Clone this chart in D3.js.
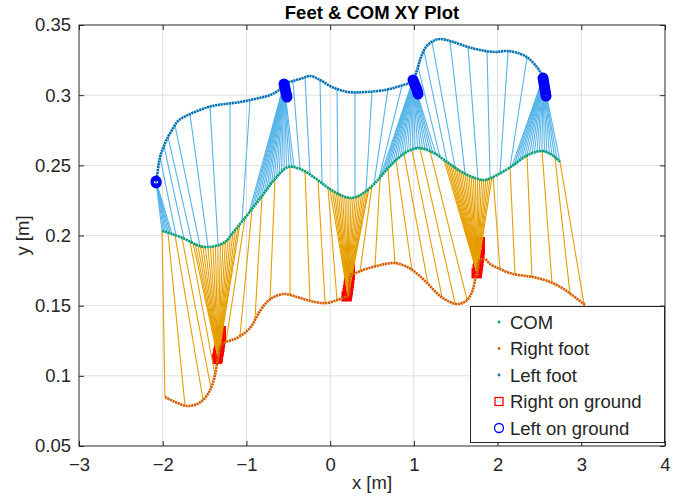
<!DOCTYPE html>
<html>
<head>
<meta charset="utf-8">
<script src="https://cdn.jsdelivr.net/npm/d3@7"></script>
<style>
body { margin: 0; background: #fff; }
text { font-family: "Liberation Sans", Arial, sans-serif; }
</style>
</head>
<body>
<svg id="chart" width="681" height="497"></svg>
<script>
// COM trajectory (x, y in m)
var comX = [-2.008, -1.889, -1.734, -1.590, -1.495, -1.375, -1.256, -1.136, -0.981, -0.814, -0.659, -0.503, -0.360, -0.181, -0.002, 0.154, 0.261, 0.381, 0.536, 0.715, 0.894, 1.050, 1.217, 1.396, 1.575, 1.731, 1.838, 1.993, 2.173, 2.364, 2.531, 2.650, 2.746];
var comY = [0.2032, 0.2011, 0.1975, 0.1932, 0.1918, 0.1925, 0.1954, 0.2039, 0.2153, 0.2281, 0.2403, 0.2488, 0.2474, 0.2410, 0.2331, 0.2281, 0.2267, 0.2296, 0.2374, 0.2495, 0.2588, 0.2623, 0.2595, 0.2524, 0.2452, 0.2410, 0.2395, 0.2431, 0.2495, 0.2574, 0.2602, 0.2574, 0.2524];

// right foot trajectory
var rightX = [-1.973, -1.853, -1.710, -1.590, -1.495, -1.423, -1.375, -1.351, -1.339, -1.304, -1.244, -1.113, -0.957, -0.838, -0.742, -0.647, -0.539, -0.360, -0.181, -0.037, 0.082, 0.178, 0.213, 0.249, 0.309, 0.393, 0.512, 0.655, 0.775, 0.894, 1.014, 1.157, 1.313, 1.432, 1.528, 1.623, 1.695, 1.731, 1.755, 1.790, 1.850, 1.910, 2.029, 2.185, 2.423, 2.627, 2.770, 2.889, 3.045];
var rightY = [0.0849, 0.0814, 0.0785, 0.0799, 0.0842, 0.0913, 0.1006, 0.1091, 0.1127, 0.1220, 0.1241, 0.1270, 0.1341, 0.1462, 0.1533, 0.1569, 0.1583, 0.1555, 0.1526, 0.1519, 0.1540, 0.1562, 0.1569, 0.1719, 0.1733, 0.1754, 0.1776, 0.1797, 0.1804, 0.1783, 0.1740, 0.1662, 0.1569, 0.1526, 0.1512, 0.1533, 0.1597, 0.1683, 0.1733, 0.1825, 0.1832, 0.1797, 0.1761, 0.1726, 0.1704, 0.1669, 0.1626, 0.1576, 0.1505];

// left foot trajectory
var leftX = [-2.080, -2.068, -2.032, -1.985, -1.937, -1.889, -1.817, -1.698, -1.555, -1.411, -1.256, -1.077, -0.898, -0.718, -0.611, -0.551, -0.444, -0.324, -0.241, -0.121, 0.022, 0.213, 0.440, 0.655, 0.835, 0.942, 0.990, 1.038, 1.086, 1.145, 1.229, 1.313, 1.432, 1.611, 1.790, 1.970, 2.113, 2.244, 2.364, 2.459, 2.519, 2.543];
var leftY = [0.2381, 0.2424, 0.2559, 0.2638, 0.2702, 0.2752, 0.2816, 0.2859, 0.2894, 0.2923, 0.2937, 0.2951, 0.2973, 0.3001, 0.3037, 0.3080, 0.3101, 0.3122, 0.3137, 0.3108, 0.3058, 0.3023, 0.3023, 0.3037, 0.3065, 0.3087, 0.3108, 0.3179, 0.3272, 0.3343, 0.3386, 0.3400, 0.3386, 0.3350, 0.3322, 0.3308, 0.3315, 0.3300, 0.3265, 0.3208, 0.3158, 0.3129];

// foot on ground samples
var rightGroundX = [-1.351, -1.345, -1.339, -1.339, -1.333, -1.327, -1.321, -1.315, -1.310, -1.304, -1.304,
    0.195, 0.201, 0.207, 0.213, 0.219, 0.225, 0.231, 0.237, 0.237,
    1.748, 1.754, 1.760, 1.766, 1.772, 1.778, 1.784, 1.790, 1.790];
var rightGroundY = [0.1120, 0.1127, 0.1135, 0.1156, 0.1170, 0.1184, 0.1206, 0.1234, 0.1260, 0.1284, 0.1319,
    0.1565, 0.1569, 0.1590, 0.1612, 0.1640, 0.1662, 0.1690, 0.1719, 0.1776,
    0.1730, 0.1733, 0.1760, 0.1783, 0.1810, 0.1840, 0.1870, 0.1897, 0.1954];
var leftGroundX = [-2.080, -2.078, -0.551, -0.545, -0.539, -0.533, -0.527, -0.521, -0.515,
    0.990, 1.002, 1.014, 1.026, 1.038, 1.044, 1.050,
    2.543, 2.549, 2.555, 2.561, 2.567, 2.573, 2.579];
var leftGroundY = [0.2388, 0.2375, 0.3080, 0.3066, 0.3051, 0.3033, 0.3015, 0.3001, 0.2987,
    0.3108, 0.3090, 0.3072, 0.3055, 0.3037, 0.3022, 0.3008,
    0.3122, 0.3101, 0.3080, 0.3058, 0.3037, 0.3015, 0.2994];

// links foot -> COM while foot is on ground (apex + COM x of each line)
var leftFanFoot = [[-2.080, 0.2388], [-0.551, 0.3080], [0.990, 0.3108], [2.543, 0.3122]];
var leftFanCom = [
    [-2.008, -1.990, -1.970, -1.950, -1.930, -1.910, -1.889],
    [-0.969, -0.940, -0.910, -0.880, -0.850, -0.820, -0.790, -0.760, -0.730, -0.700, -0.670, -0.640, -0.610, -0.580, -0.550, -0.520, -0.490, -0.460, -0.430],
    [0.596, 0.625, 0.655, 0.685, 0.715, 0.745, 0.775, 0.805, 0.835, 0.865, 0.895, 0.925, 0.955, 0.985, 1.015, 1.045, 1.075, 1.105, 1.135, 1.165, 1.195, 1.225, 1.265],
    [2.173, 2.200, 2.230, 2.260, 2.290, 2.320, 2.350, 2.380, 2.410, 2.440, 2.470, 2.500, 2.530, 2.560, 2.590, 2.620, 2.650, 2.680, 2.710, 2.746]
];
var rightFanFoot = [[-1.339, 0.1127], [0.213, 0.1569], [1.754, 0.1733]];
var rightFanCom = [
    [-1.638, -1.610, -1.580, -1.550, -1.520, -1.490, -1.460, -1.430, -1.400, -1.370, -1.340, -1.310, -1.280, -1.250, -1.220, -1.190, -1.160, -1.130, -1.100, -1.077],
    [-0.002, 0.025, 0.050, 0.075, 0.100, 0.125, 0.150, 0.175, 0.200, 0.225, 0.250, 0.275, 0.300, 0.325, 0.350, 0.375, 0.400, 0.425, 0.450, 0.464],
    [1.360, 1.385, 1.410, 1.435, 1.460, 1.485, 1.510, 1.535, 1.560, 1.585, 1.610, 1.635, 1.660, 1.685, 1.710, 1.735, 1.760, 1.785, 1.810, 1.835, 1.860, 1.885, 1.910, 1.934]
];

// links foot -> COM during swing (foot x, COM x)
var leftSwingFoot = [-2.032, -1.985, -1.937, -1.853, -1.674, -1.435, -1.196, -0.957,
    -0.444, -0.300, -0.121, 0.082, 0.297, 0.500, 0.691, 0.859,
    1.050, 1.121, 1.217, 1.432, 1.647, 1.874, 2.125, 2.352];
var leftSwingCom = [-1.841, -1.746, -1.650, -1.555, -1.459, -1.339, -1.196, -1.053,
    -0.360, -0.241, -0.097, 0.094, 0.297, 0.429, 0.524, 0.584,
    1.313, 1.396, 1.492, 1.611, 1.766, 1.910, 2.029, 2.149];
var rightSwingFoot = [-1.973, -1.734, -1.519, -1.423, -1.375,
    -1.244, -1.077, -0.898, -0.718, -0.479, -0.241, -0.061, 0.082,
    0.357, 0.536, 0.775, 0.978, 1.169, 1.337, 1.492, 1.635,
    2.029, 2.208, 2.411, 2.650, 2.865, 3.033];
var rightSwingCom = [-2.008, -1.937, -1.853, -1.770, -1.674,
    -1.017, -0.933, -0.814, -0.659, -0.479, -0.300, -0.145, -0.026,
    0.500, 0.596, 0.691, 0.787, 0.882, 0.978, 1.074, 1.193,
    1.946, 2.149, 2.352, 2.531, 2.686, 2.746];

var xTicks = [-3, -2, -1, 0, 1, 2, 3, 4];
var yTicks = [0.05, 0.1, 0.15, 0.2, 0.25, 0.3, 0.35];

var legendNames = ['COM', 'Right foot', 'Left foot', 'Right on ground', 'Left on ground'];

var width = 681, height = 497;
var margin = { top: 25, right: 16, bottom: 51, left: 79 };
var axisColor = '#262626';
var comColor = '#009E73', rightColor = '#D55E00', leftColor = '#0072B2';
var rightLink = '#E69F00', leftLink = '#56B4E9';
var fontSize = '18.5px';

var svg = d3.select('#chart');

var x = d3.scaleLinear().domain([-3, 4]).range([margin.left, width - margin.right]);
var y = d3.scaleLinear().domain([0.05, 0.35]).range([height - margin.bottom, margin.top]);

// y on a polyline at a given x
function yOn(xs, ys, xv) {
    for (var i = 0; i < xs.length - 1; i++) {
        if (xv >= xs[i] && xv <= xs[i + 1]) {
            var t = (xv - xs[i]) / ((xs[i + 1] - xs[i]) || 1);
            return ys[i] + t * (ys[i + 1] - ys[i]);
        }
    }
    return xv < xs[0] ? ys[0] : ys[ys.length - 1];
}

// grid
svg.append('g')
    .selectAll('line')
    .data(xTicks.slice(1, -1))
    .enter().append('line')
    .attr('x1', function (d) { return x(d) }).attr('x2', function (d) { return x(d) })
    .attr('y1', y(0.35)).attr('y2', y(0.05))
    .attr('stroke', '#dfdfdf').attr('stroke-width', 1);
svg.append('g')
    .selectAll('line')
    .data(yTicks.slice(1, -1))
    .enter().append('line')
    .attr('x1', x(-3)).attr('x2', x(4))
    .attr('y1', function (d) { return y(d) }).attr('y2', function (d) { return y(d) })
    .attr('stroke', '#dfdfdf').attr('stroke-width', 1);

// right on ground squares (under the links)
svg.append('g')
    .selectAll('rect')
    .data(d3.range(rightGroundX.length))
    .enter().append('rect')
    .attr('x', function (i) { return x(rightGroundX[i]) - 3.5 })
    .attr('y', function (i) { return y(rightGroundY[i]) - 3.5 })
    .attr('width', 7).attr('height', 7)
    .attr('fill', 'none').attr('stroke', '#ff0000').attr('stroke-width', 3);

// build link segments
var links = [];
leftFanFoot.forEach(function (f, k) {
    leftFanCom[k].forEach(function (c) {
        links.push({ x1: f[0], y1: f[1], x2: c, y2: yOn(comX, comY, c), color: leftLink });
    });
});
rightFanFoot.forEach(function (f, k) {
    rightFanCom[k].forEach(function (c) {
        links.push({ x1: f[0], y1: f[1], x2: c, y2: yOn(comX, comY, c), color: rightLink });
    });
});
leftSwingFoot.forEach(function (fx, i) {
    var c = leftSwingCom[i];
    links.push({ x1: fx, y1: yOn(leftX, leftY, fx), x2: c, y2: yOn(comX, comY, c), color: leftLink });
});
rightSwingFoot.forEach(function (fx, i) {
    var c = rightSwingCom[i];
    links.push({ x1: fx, y1: yOn(rightX, rightY, fx), x2: c, y2: yOn(comX, comY, c), color: rightLink });
});

svg.append('g')
    .selectAll('line')
    .data(links)
    .enter().append('line')
    .attr('x1', function (d) { return x(d.x1) })
    .attr('y1', function (d) { return y(d.y1) })
    .attr('x2', function (d) { return x(d.x2) })
    .attr('y2', function (d) { return y(d.y2) })
    .attr('stroke', function (d) { return d.color })
    .attr('stroke-width', 1.1);

// trajectories
var line = d3.line()
    .x(function (d) { return x(d[0]) })
    .y(function (d) { return y(d[1]) })
    .curve(d3.curveCatmullRom.alpha(0.5));

function drawPath(xs, ys, color) {
    svg.append('path')
        .datum(d3.zip(xs, ys))
        .attr('d', line)
        .attr('fill', 'none')
        .attr('stroke', color)
        .attr('stroke-width', 2.6)
        .attr('stroke-dasharray', '2.2,0.6');
}
drawPath(comX, comY, comColor);
drawPath(rightX, rightY, rightColor);
drawPath(leftX, leftY, leftColor);

// left on ground circles
svg.append('g')
    .selectAll('circle')
    .data(d3.range(leftGroundX.length))
    .enter().append('circle')
    .attr('cx', function (i) { return x(leftGroundX[i]) })
    .attr('cy', function (i) { return y(leftGroundY[i]) })
    .attr('r', 4)
    .attr('fill', 'none').attr('stroke', '#0000ff').attr('stroke-width', 3);

// axes box + ticks
svg.append('rect')
    .attr('x', x(-3)).attr('y', y(0.35))
    .attr('width', x(4) - x(-3)).attr('height', y(0.05) - y(0.35))
    .attr('fill', 'none').attr('stroke', axisColor).attr('stroke-width', 1);

var xAxis = svg.append('g')
    .attr('transform', 'translate(0,' + y(0.05) + ')')
    .call(d3.axisBottom(x).tickValues(xTicks).tickSize(-5).tickPadding(12).tickFormat(d3.format('d')));
var xAxisTop = svg.append('g')
    .attr('transform', 'translate(0,' + y(0.35) + ')')
    .call(d3.axisTop(x).tickValues(xTicks).tickSize(-5).tickFormat(''));
var yAxis = svg.append('g')
    .attr('transform', 'translate(' + x(-3) + ',0)')
    .call(d3.axisLeft(y).tickValues(yTicks).tickSize(-5).tickPadding(8).tickFormat(function (d) { return String(+d.toFixed(2)) }));
var yAxisRight = svg.append('g')
    .attr('transform', 'translate(' + x(4) + ',0)')
    .call(d3.axisRight(y).tickValues(yTicks).tickSize(-5).tickFormat(''));

[xAxis, xAxisTop, yAxis, yAxisRight].forEach(function (g) {
    g.select('.domain').remove();
    g.selectAll('line').attr('stroke', axisColor);
    g.selectAll('text')
        .attr('fill', axisColor)
        .style('font-size', fontSize)
        .style('font-family', '"Liberation Sans", Arial, sans-serif');
});

// labels
svg.append('text')
    .attr('x', (x(-3) + x(4)) / 2).attr('y', 18.5)
    .attr('text-anchor', 'middle')
    .style('font-size', fontSize).style('font-weight', 'bold')
    .attr('fill', '#000')
    .text('Feet & COM XY Plot');
svg.append('text')
    .attr('x', (x(-3) + x(4)) / 2).attr('y', 489)
    .attr('text-anchor', 'middle')
    .style('font-size', fontSize)
    .attr('fill', axisColor)
    .text('x [m]');
svg.append('text')
    .attr('transform', 'translate(29,' + (y(0.05) + y(0.35)) / 2 + ') rotate(-90)')
    .attr('text-anchor', 'middle')
    .style('font-size', fontSize)
    .attr('fill', axisColor)
    .text('y [m]');

// legend
var legend = svg.append('g');
legend.append('rect')
    .attr('x', 470.5).attr('y', 306.5)
    .attr('width', 194).attr('height', 136)
    .attr('fill', '#fff').attr('stroke', axisColor).attr('stroke-width', 1);

var rowY = d3.scaleLinear().domain([0, 4]).range([322, 428]);
var item = legend.selectAll('.item')
    .data(legendNames)
    .enter().append('g')
    .attr('class', 'item')
    .attr('transform', function (d, i) { return 'translate(0,' + rowY(i) + ')' });

item.append('text')
    .attr('x', 510).attr('y', 6.5)
    .style('font-size', fontSize)
    .attr('fill', axisColor)
    .text(function (d) { return d });

var dotColors = [comColor, rightColor, leftColor];
item.filter(function (d, i) { return i < 3 })
    .append('circle')
    .attr('cx', 499).attr('cy', 0).attr('r', 1.4)
    .attr('fill', function (d, i) { return dotColors[i] });
item.filter(function (d, i) { return i === 3 })
    .append('rect')
    .attr('x', 495).attr('y', -4).attr('width', 8).attr('height', 8)
    .attr('fill', 'none').attr('stroke', '#ff0000').attr('stroke-width', 1.3);
item.filter(function (d, i) { return i === 4 })
    .append('circle')
    .attr('cx', 499).attr('cy', 0).attr('r', 4.5)
    .attr('fill', 'none').attr('stroke', '#0000ff').attr('stroke-width', 1.3);
</script>
</body>
</html>
